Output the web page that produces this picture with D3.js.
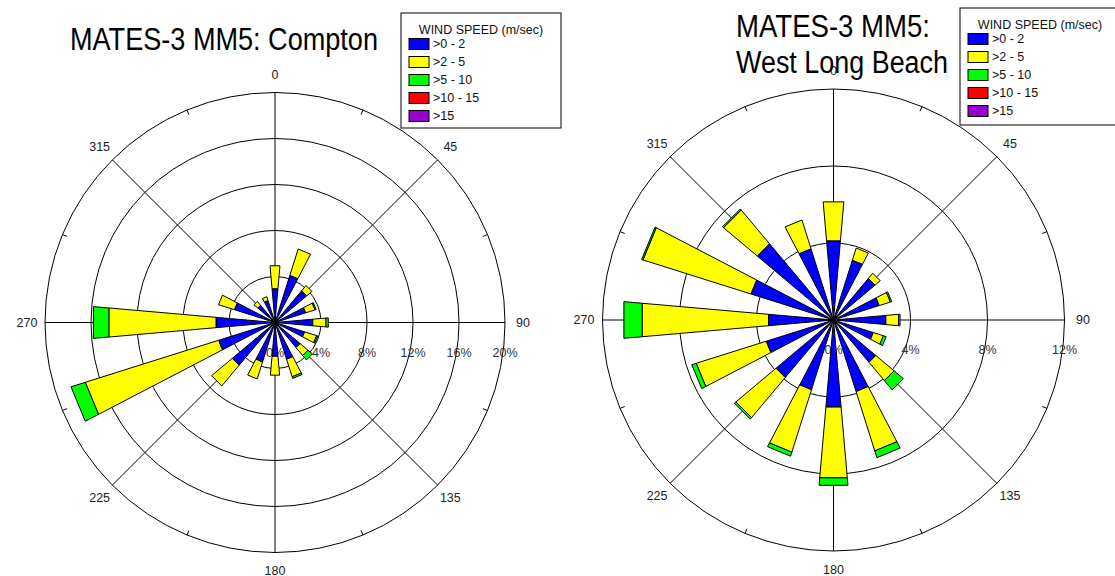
<!DOCTYPE html>
<html>
<head>
<meta charset="utf-8">
<script src="https://cdn.jsdelivr.net/npm/d3@7"></script>
<style>
  html, body { margin: 0; padding: 0; background: #fff; }
  svg { display: block; font-family: "Liberation Sans", Arial, sans-serif; }
</style>
</head>
<body>
<svg id="chart" width="1115" height="576"></svg>
<script>
// Wind direction sectors (degrees, clockwise from north)
const directions = [0, 22.5, 45, 67.5, 90, 112.5, 135, 157.5, 180, 202.5, 225, 247.5, 270, 292.5, 315, 337.5];

// Wind speed classes
const speedBins = [">0 - 2", ">2 - 5", ">5 - 10", ">10 - 15", ">15"];
const binColors = ["#0000ff", "#ffff00", "#00ff00", "#ff0000", "#9900cc"];
const legendTitle = "WIND SPEED (m/sec)";

// Compton: frequency (%) per sector for each speed class
const comptonS1 = [2.95, 4.3, 3.6, 2.8, 3.3, 2.7, 2.85, 3.35, 2.95, 3.6, 4.85, 5.15, 5.15, 3.7, 1.95, 2.0];
const comptonS2 = [2.0, 2.4, 0.6, 0.85, 1.15, 1.1, 0.9, 1.6, 1.65, 1.55, 2.35, 12.15, 9.35, 1.45, 0.45, 0.35];
const comptonS3 = [0, 0, 0, 0.1, 0.2, 0.1, 0.5, 0.15, 0, 0, 0, 1.3, 1.35, 0, 0, 0];
const comptonS4 = [0, 0, 0, 0, 0, 0, 0, 0, 0, 0, 0, 0, 0, 0, 0, 0];
const comptonS5 = [0, 0, 0, 0, 0, 0, 0, 0, 0, 0, 0, 0, 0, 0, 0, 0];

// West Long Beach: frequency (%) per sector for each speed class
const wlbS1 = [4.13, 3.26, 2.82, 2.49, 2.73, 2.17, 2.87, 3.9, 4.54, 3.8, 3.9, 3.67, 3.39, 4.5, 5.17, 3.88];
const wlbS2 = [2.03, 0.66, 0.35, 0.61, 0.66, 0.55, 1.24, 3.23, 3.69, 3.4, 2.72, 3.81, 6.59, 5.88, 2.29, 1.57];
const wlbS3 = [0, 0, 0, 0.07, 0.08, 0.15, 0.63, 0.37, 0.39, 0.22, 0.1, 0.24, 0.95, 0.07, 0.07, 0];
const wlbS4 = [0, 0, 0, 0, 0, 0, 0, 0, 0, 0, 0, 0, 0, 0, 0, 0];
const wlbS5 = [0, 0, 0, 0, 0, 0, 0, 0, 0, 0, 0, 0, 0, 0, 0, 0];

// Radial axis ticks (%) and compass labels
const comptonRingTicks = [0, 4, 8, 12, 16, 20];
const wlbRingTicks = [0, 4, 8, 12];
const compassLabels = [0, 45, 90, 135, 180, 225, 270, 315];
const minorCompass = [22.5, 67.5, 112.5, 157.5, 202.5, 247.5, 292.5, 337.5];

const svg = d3.select("#chart");
const toRad = d => d * Math.PI / 180;
const sectorHalf = 5; // half angular width of each bar, degrees

function rowsFrom(seriesList) {
  return directions.map((dir, i) => {
    const row = { dir };
    speedBins.forEach((b, k) => { row[b] = seriesList[k][i]; });
    return row;
  });
}

function drawRose(cfg) {
  const g = svg.append("g").attr("transform", `translate(${cfg.cx},${cfg.cy})`);
  const r = d3.scaleLinear().domain([0, d3.max(cfg.ringTicks)]).range([0, cfg.radius]);
  const R = cfg.radius;

  // rings
  g.selectAll("circle.ring").data(cfg.ringTicks.filter(t => t > 0)).join("circle")
    .attr("class", "ring").attr("r", d => r(d))
    .attr("fill", "none").attr("stroke", "#000").attr("stroke-width", 1);

  // spokes
  g.selectAll("line.spoke").data(compassLabels).join("line")
    .attr("class", "spoke")
    .attr("x1", 0).attr("y1", 0)
    .attr("x2", d => d3.pointRadial(toRad(d), R)[0])
    .attr("y2", d => d3.pointRadial(toRad(d), R)[1])
    .attr("stroke", "#000").attr("stroke-width", 1);

  // minor ticks on the outer ring
  g.selectAll("line.tick").data(minorCompass).join("line")
    .attr("class", "tick")
    .attr("x1", d => d3.pointRadial(toRad(d), R - 5)[0])
    .attr("y1", d => d3.pointRadial(toRad(d), R - 5)[1])
    .attr("x2", d => d3.pointRadial(toRad(d), R)[0])
    .attr("y2", d => d3.pointRadial(toRad(d), R)[1])
    .attr("stroke", "#000").attr("stroke-width", 1);

  // percent labels along the east axis
  g.selectAll("text.pct").data(cfg.ringTicks).join("text")
    .attr("class", "pct")
    .attr("x", d => r(d)).attr("y", 30)
    .attr("text-anchor", "middle").attr("dominant-baseline", "central")
    .attr("font-size", 12.5).attr("fill", "#333")
    .text(d => d + "%");

  // stacked sector bars
  const stack = d3.stack().keys(speedBins);
  const layers = stack(rowsFrom(cfg.series));
  const poly = (dir, r0, r1) => {
    const a0 = toRad(dir - sectorHalf), a1 = toRad(dir + sectorHalf);
    const pts = [
      d3.pointRadial(a0, r(r0)), d3.pointRadial(a1, r(r0)),
      d3.pointRadial(a1, r(r1)), d3.pointRadial(a0, r(r1))
    ];
    return "M" + pts.map(p => p.join(",")).join("L") + "Z";
  };
  g.selectAll("g.layer").data(layers).join("g")
    .attr("class", "layer")
    .attr("fill", (d, i) => binColors[i])
    .selectAll("path").data(d => d.filter(s => s[1] - s[0] > 0)).join("path")
    .attr("d", s => poly(s.data.dir, s[0], s[1]))
    .attr("stroke", "#000").attr("stroke-width", 1).attr("stroke-linejoin", "miter");

  // compass labels
  g.selectAll("text.dir").data(compassLabels).join("text")
    .attr("class", "dir")
    .attr("x", d => d3.pointRadial(toRad(d), R + cfg.labelGap)[0])
    .attr("y", d => d3.pointRadial(toRad(d), R + cfg.labelGap)[1])
    .attr("text-anchor", "middle").attr("dominant-baseline", "central")
    .attr("font-size", 12.5).attr("fill", "#222")
    .text(d => d);
}

function drawLegend(x, y, w, h, titleY, firstRowY) {
  const g = svg.append("g");
  g.append("rect").attr("x", x).attr("y", y).attr("width", w).attr("height", h)
    .attr("fill", "#fff").attr("stroke", "#000").attr("stroke-width", 1);
  g.append("text").attr("x", x + 80).attr("y", titleY)
    .attr("text-anchor", "middle").attr("font-size", 12.5).attr("fill", "#111")
    .text(legendTitle);
  const rows = g.selectAll("g.item").data(speedBins).join("g")
    .attr("class", "item")
    .attr("transform", (d, i) => `translate(${x + 8},${firstRowY + i * 18})`);
  rows.append("rect").attr("x", 0).attr("y", -5.5).attr("width", 20).attr("height", 11)
    .attr("fill", (d, i) => binColors[i]).attr("stroke", "#000").attr("stroke-width", 1);
  rows.append("text").attr("x", 24).attr("y", 0)
    .attr("dominant-baseline", "central").attr("font-size", 12.5).attr("fill", "#111")
    .text(d => d);
}

drawRose({
  cx: 275, cy: 322.5, radius: 230, ringTicks: comptonRingTicks, labelGap: 18,
  series: [comptonS1, comptonS2, comptonS3, comptonS4, comptonS5]
});
drawRose({
  cx: 833.5, cy: 320, radius: 231, ringTicks: wlbRingTicks, labelGap: 18.5,
  series: [wlbS1, wlbS2, wlbS3, wlbS4, wlbS5]
});

drawLegend(401, 13, 160, 115, 34, 44);
drawLegend(960, 8, 170, 117, 29, 39);

// titles
svg.append("text").attr("x", 70).attr("y", 50)
  .attr("font-size", 31).attr("fill", "#000")
  .attr("textLength", 308).attr("lengthAdjust", "spacingAndGlyphs")
  .text("MATES-3 MM5: Compton");
svg.append("text").attr("x", 736).attr("y", 37)
  .attr("font-size", 31).attr("fill", "#000")
  .attr("textLength", 194).attr("lengthAdjust", "spacingAndGlyphs")
  .text("MATES-3 MM5:");
svg.append("text").attr("x", 736).attr("y", 73)
  .attr("font-size", 31).attr("fill", "#000")
  .attr("textLength", 212).attr("lengthAdjust", "spacingAndGlyphs")
  .text("West Long Beach");
</script>
</body>
</html>
